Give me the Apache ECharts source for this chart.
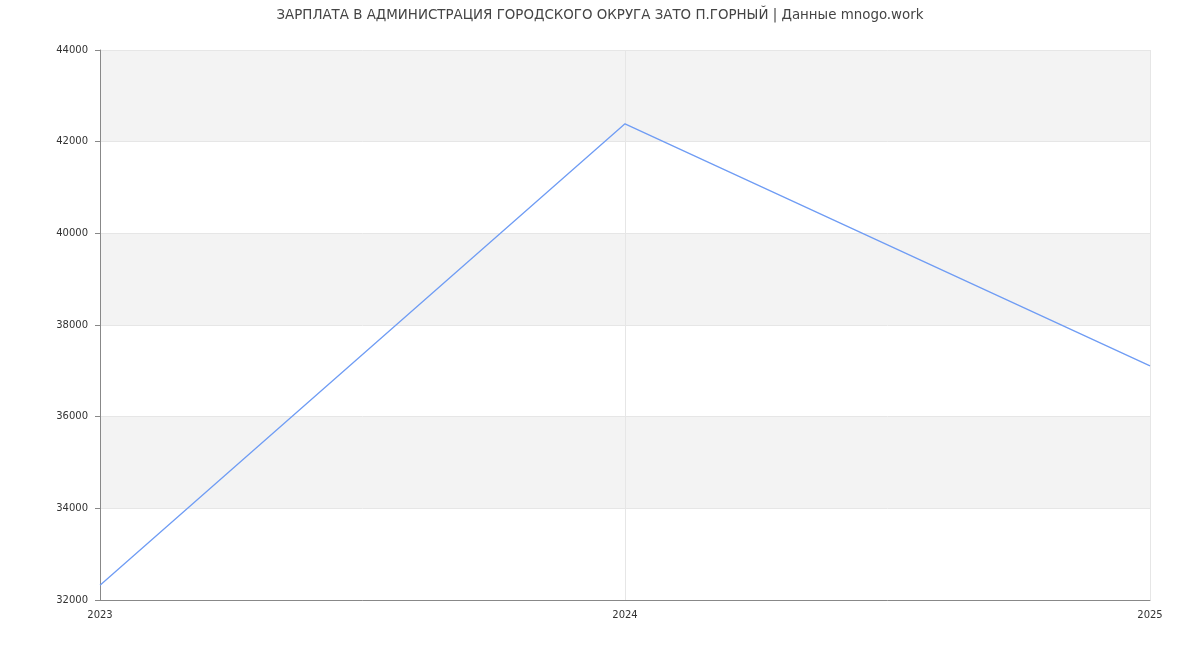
<!DOCTYPE html>
<html>
<head>
<meta charset="utf-8">
<script src="https://cdn.jsdelivr.net/npm/echarts@6/dist/echarts.min.js"></script>
<style>html,body{margin:0;padding:0;background:#fff}#c{width:1200px;height:650px}</style>
</head>
<body>
<div id="c"></div>
<script>
const titleText = 'ЗАРПЛАТА В АДМИНИСТРАЦИЯ ГОРОДСКОГО ОКРУГА ЗАТО П.ГОРНЫЙ | Данные mnogo.work';
const years = ['2023', '2024', '2025'];
const salary = [32320, 42390, 37110];

const chart = echarts.init(document.getElementById('c'));
chart.setOption({
  animation: false,
  textStyle: { fontFamily: 'DejaVu Sans' },
  title: {
    text: titleText, left: 'center', top: 4,
    textStyle: { fontSize: 13.4, fontWeight: 'normal', color: '#444', fontFamily: 'DejaVu Sans' }
  },
  grid: { left: 100, right: 50, top: 50, bottom: 50 },
  xAxis: {
    type: 'category', data: years, boundaryGap: false,
    axisLine: { lineStyle: { color: '#888' } },
    axisTick: { show: false },
    axisLabel: { color: '#333', fontSize: 10, margin: 10 },
    splitLine: { show: true, lineStyle: { color: '#e6e6e6' } }
  },
  yAxis: {
    type: 'value', min: 32000, max: 44000, interval: 2000,
    axisLine: { show: true, lineStyle: { color: '#888' } },
    axisTick: { show: true, length: 5, lineStyle: { color: '#888' } },
    axisLabel: { color: '#333', fontSize: 10, margin: 12, formatter: v => String(v) },
    splitLine: { show: true, lineStyle: { color: '#e6e6e6' } },
    splitArea: { show: true, areaStyle: { color: ['#ffffff', '#f3f3f3'] } }
  },
  series: [{
    type: 'line', data: salary, symbol: 'none',
    lineStyle: { color: '#6f9cf4', width: 1.3 }
  }]
});
</script>
</body>
</html>
